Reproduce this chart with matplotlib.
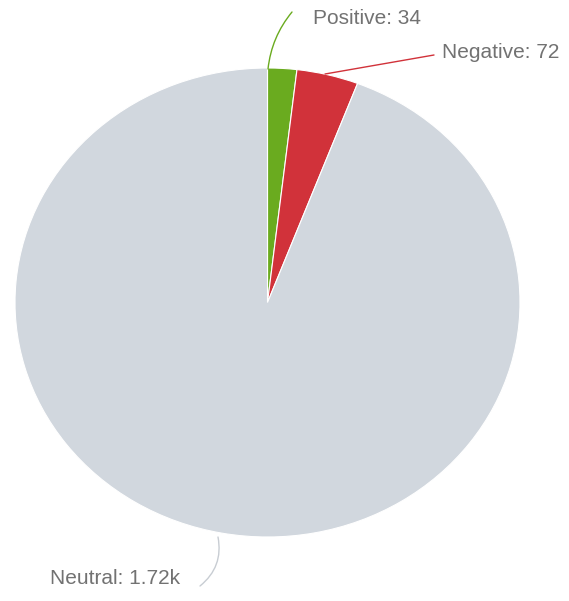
import numpy as np
import matplotlib.pyplot as plt

labels = ['Positive', 'Negative', 'Neutral']
values = [34, 72, 1720]
value_text = ['34', '72', '1.72k']
colors = ['#6aab1f', '#d1323a', '#d1d7de']

W, H = 569, 601
cx, cy = 267.5, 302.5   # pie centre in pixels
rx, ry = 252.5, 234.5   # pie is a bit squashed


def px(x, y):
    # pixel -> data coords (unit radius pie)
    return (x - cx) / rx, (cy - y) / ry


fig = plt.figure(figsize=(W / 100, H / 100), dpi=100)
ax = fig.add_axes([0, 0, 1, 1])
ax.pie(values, colors=colors, startangle=90, counterclock=False,
       wedgeprops=dict(edgecolor='white', linewidth=0.8))
ax.set_aspect('auto')
ax.set_xlim(-cx / rx, (W - cx) / rx)
ax.set_ylim(-(H - cy) / ry, cy / ry)
ax.axis('off')

# label positions / leader lines (pixels)
lab = [
    dict(text=(313, 19), start=(268, 69), end=(292, 12), rad=-0.15, col='#6aab1f'),
    dict(text=(442, 53), start=(325, 74), end=(434, 55), rad=0.0, col='#d1323a'),
    dict(text=(50, 578), start=(218, 537), end=(200, 586), rad=-0.3, col='#c8cdd3'),
]
for i, d in enumerate(lab):
    ax.annotate('', xy=px(*d['end']), xytext=px(*d['start']),
                arrowprops=dict(arrowstyle='-', color=d['col'], lw=1,
                                connectionstyle='arc3,rad=%s' % d['rad'],
                                shrinkA=0, shrinkB=0))
    ax.text(*px(*d['text']), '%s: %s' % (labels[i], value_text[i]),
            ha='left', va='center', fontsize=15, color='#727272',
            family='Liberation Sans')

fig.savefig('out.png', dpi=100)
